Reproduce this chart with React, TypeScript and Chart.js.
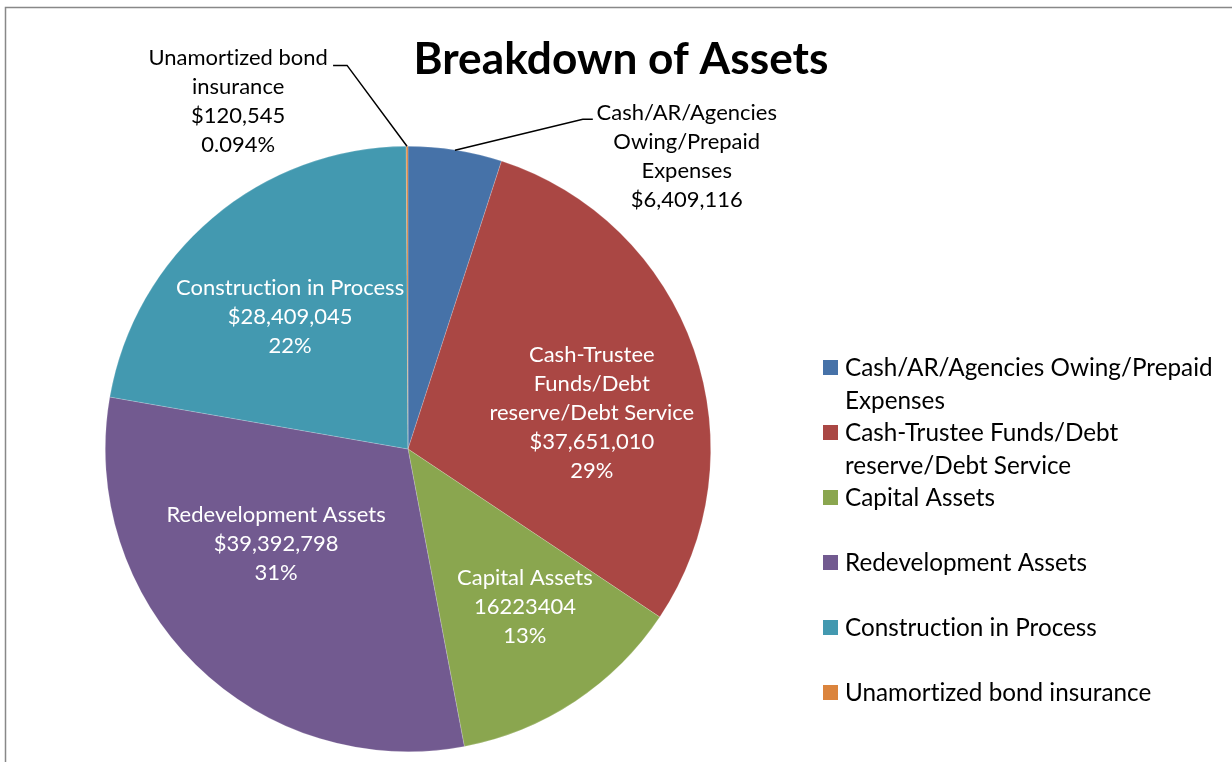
import React, { useEffect, useRef } from "react";
import { Chart, registerables } from "chart.js";

Chart.register(...registerables);

// ---------- data ----------
const chartTitle = "Breakdown of Assets";
const categories = [
  "Cash/AR/Agencies Owing/Prepaid Expenses",
  "Cash-Trustee Funds/Debt reserve/Debt Service",
  "Capital Assets",
  "Redevelopment Assets",
  "Construction in Process",
  "Unamortized bond insurance",
];
const assetValues = [6409116, 37651010, 16223404, 39392798, 28409045, 120545];
const legendLines = [
  ["Cash/AR/Agencies Owing/Prepaid", "Expenses"],
  ["Cash-Trustee Funds/Debt", "reserve/Debt Service"],
  ["Capital Assets"],
  ["Redevelopment Assets"],
  ["Construction in Process"],
  ["Unamortized bond insurance"],
];
const labelNameLines = [
  ["Cash/AR/Agencies", "Owing/Prepaid", "Expenses"],
  ["Cash-Trustee", "Funds/Debt", "reserve/Debt Service"],
  ["Capital Assets"],
  ["Redevelopment Assets"],
  ["Construction in Process"],
  ["Unamortized bond", "insurance"],
];
const valueCurrency = [true, true, false, true, true, true];
const percentDecimals: (number | null)[] = [null, 0, 0, 0, 0, 3];

// ---------- styles ----------
const sliceColors = ["#4672A8", "#AA4744", "#8AA64F", "#725A90", "#4399B0", "#DB843D"];
const FONT = "Lato, 'Open Sans', sans-serif";
// label anchors: first-line centre relative to pie centre, in px at radius 303
const labelStyle = [
  { dx: 279, dy: -336, color: "#000", leader: [[185, -330], [175, -330], [47, -299]] },
  { dx: 184, dy: -94, color: "#fff", leader: null },
  { dx: 117, dy: 129, color: "#fff", leader: null },
  { dx: -132, dy: 66, color: "#fff", leader: null },
  { dx: -118, dy: -161, color: "#fff", leader: null },
  { dx: -170, dy: -391, color: "#000", leader: [[-75, -384], [-61, -384], [-1, -303]] },
];
const legendRowY = [[367, 400], [432, 465], [497], [562], [627], [692]];

function fmt(n: number, currency: boolean) {
  if (!currency) return String(n);
  return "$" + n.toLocaleString("en-US");
}

function setSpacing(ctx: any) {
  // a tiny letter spacing disables ligatures (e.g. "ti") as in the reference
  if ("letterSpacing" in ctx) ctx.letterSpacing = "0.01px";
}

function fitSize(ctx: CanvasRenderingContext2D, weight: string, text: string, target: number) {
  ctx.font = `${weight} 40px ${FONT}`;
  setSpacing(ctx);
  const w = ctx.measureText(text).width;
  return (40 * target) / w;
}

const overlayPlugin = {
  id: "overlay",
  afterDraw(chart: any) {
    const ctx: CanvasRenderingContext2D = chart.ctx;
    const meta = chart.getDatasetMeta(0);
    const arc0 = meta.data[0];
    const cx = arc0.x;
    const cy = arc0.y;
    const R = arc0.outerRadius;
    const s = R / 303;
    const total = assetValues.reduce((a, b) => a + b, 0);

    ctx.save();
    setSpacing(ctx);
    // border
    ctx.strokeStyle = "#888888";
    ctx.lineWidth = 1.5;
    ctx.strokeRect(5.5, 7.5, 1300, 800);

    // title
    const titleSize = fitSize(ctx, "bold", chartTitle, 415);
    ctx.font = `bold ${titleSize}px ${FONT}`;
    ctx.fillStyle = "#000";
    ctx.textAlign = "center";
    ctx.textBaseline = "middle";
    ctx.fillText(chartTitle, 621, 60);

    // data labels
    const labelSize = fitSize(ctx, "normal", "Construction in Process", 228);
    ctx.font = `normal ${labelSize}px ${FONT}`;
    const lh = 29;
    labelStyle.forEach((st, i) => {
      const lines = [...labelNameLines[i], fmt(assetValues[i], valueCurrency[i])];
      const d = percentDecimals[i];
      if (d !== null) lines.push(((assetValues[i] / total) * 100).toFixed(d) + "%");
      const x = cx + st.dx * s;
      const y0 = cy + st.dy * s;
      ctx.fillStyle = st.color;
      lines.forEach((ln, k) => ctx.fillText(ln, x, y0 + k * lh));
      if (st.leader) {
        ctx.strokeStyle = "#000";
        ctx.lineWidth = 1.5;
        ctx.beginPath();
        st.leader.forEach((p, k) => {
          const px = cx + p[0] * s;
          const py = cy + p[1] * s;
          if (k === 0) ctx.moveTo(px, py);
          else ctx.lineTo(px, py);
        });
        ctx.stroke();
      }
    });

    // legend
    const legSize = fitSize(ctx, "normal", "Construction in Process", 252);
    ctx.font = `normal ${legSize}px ${FONT}`;
    ctx.textAlign = "left";
    legendLines.forEach((lines, i) => {
      const ys = legendRowY[i];
      ctx.fillStyle = sliceColors[i];
      ctx.fillRect(823, ys[0] - 7, 15, 15);
      ctx.fillStyle = "#000";
      lines.forEach((ln, k) => ctx.fillText(ln, 845, ys[k] + 1));
    });
    ctx.restore();
  },
};

export default function App() {
  const ref = useRef<HTMLCanvasElement | null>(null);
  useEffect(() => {
    if (!ref.current) return;
    const chart = new Chart(ref.current, {
      type: "pie",
      data: {
        labels: categories,
        datasets: [
          {
            data: assetValues,
            backgroundColor: sliceColors,
            borderColor: "rgba(255,255,255,0.3)",
            borderWidth: 0.6,
          },
        ],
      },
      options: {
        responsive: false,
        maintainAspectRatio: false,
        animation: false,
        events: [],
        layout: { padding: { left: 105, right: 521, top: 146, bottom: 10 } },
        plugins: {
          legend: { display: false },
          title: { display: false },
          tooltip: { enabled: false },
        },
      },
      plugins: [overlayPlugin],
    });
    return () => chart.destroy();
  }, []);
  return (
    <div style={{ position: "absolute", left: 0, top: 0, width: 1232, height: 762, background: "#fff" }}>
      <canvas ref={ref} width={1232} height={762} />
    </div>
  );
}
